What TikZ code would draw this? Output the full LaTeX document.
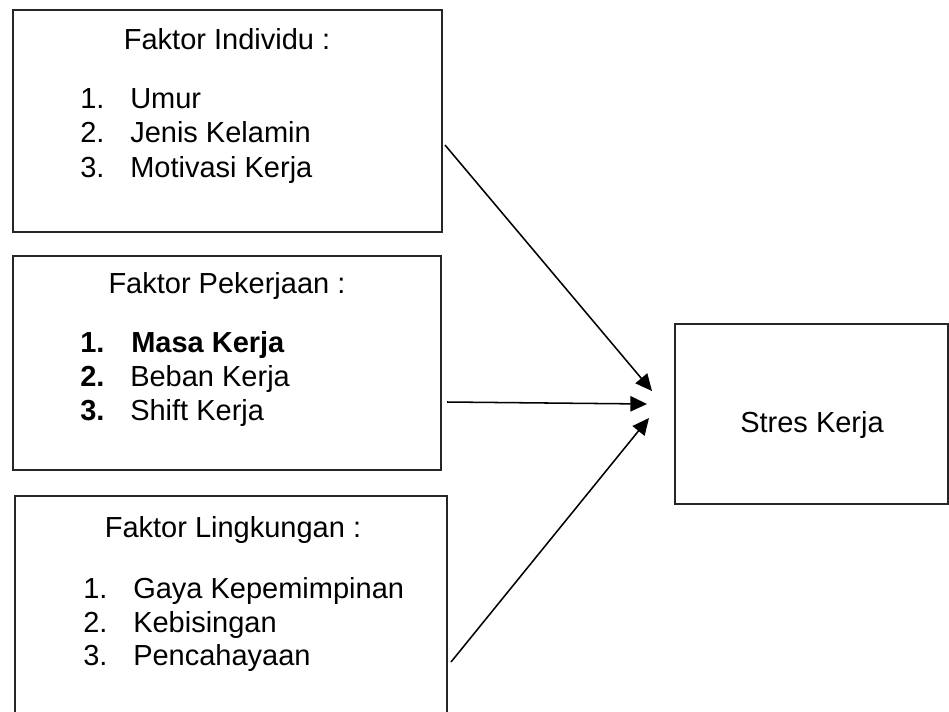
\documentclass[tikz,border=0pt]{standalone}
\usepackage{fontspec}
\setmainfont{Liberation Sans}
\usetikzlibrary{arrows.meta}
\begin{document}
\begin{tikzpicture}[x=0.75pt,y=-0.75pt,
  box/.style={draw=black!85,line width=1pt,rectangle,inner sep=0pt},
  txt/.style={inner sep=0pt,font=\fontsize{21.75}{26}\selectfont},
  conn/.style={line width=1.15pt,-{Triangle[length=12.5pt,width=11.5pt]}}]
\useasboundingbox (0,0) rectangle (949,711);
% boxes
\node[box,minimum width=429*0.75pt,minimum height=222*0.75pt] (b1) at (227.5,121) {};
\node[box,minimum width=428*0.75pt,minimum height=214*0.75pt] (b2) at (227,363) {};
\node[box,minimum width=432*0.75pt,minimum height=224*0.75pt] (b3) at (231,608) {};
\node[box,minimum width=273*0.75pt,minimum height=180*0.75pt] (b4) at (811.5,414) {};
% box 1 texts
\node[txt,anchor=base] (t1) at (227,49) {Faktor Individu :};
\node[txt,anchor=base west] (n11) at (80,108) {1.};
\node[txt,anchor=base west] (i11) at (130,108) {Umur};
\node[txt,anchor=base west] (n12) at (80,142) {2.};
\node[txt,anchor=base west] (i12) at (130,142) {Jenis Kelamin};
\node[txt,anchor=base west] (n13) at (80,177) {3.};
\node[txt,anchor=base west] (i13) at (130,177) {Motivasi Kerja};
% box 2 texts
\node[txt,anchor=base] (t2) at (227,293) {Faktor Pekerjaan :};
\node[txt,anchor=base west,font=\fontsize{21.75}{26}\selectfont\bfseries] (n21) at (80,352) {1.};
\node[txt,anchor=base west,font=\fontsize{21.75}{26}\selectfont\bfseries] (i21) at (131,352) {Masa Kerja};
\node[txt,anchor=base west,font=\fontsize{21.75}{26}\selectfont\bfseries] (n22) at (80,386) {2.};
\node[txt,anchor=base west] (i22) at (130,386) {Beban Kerja};
\node[txt,anchor=base west,font=\fontsize{21.75}{26}\selectfont\bfseries] (n23) at (80,420) {3.};
\node[txt,anchor=base west] (i23) at (130,420) {Shift Kerja};
% box 3 texts
\node[txt,anchor=base] (t3) at (233,537) {Faktor Lingkungan :};
\node[txt,anchor=base west] (n31) at (83,598) {1.};
\node[txt,anchor=base west] (i31) at (133,598) {Gaya Kepemimpinan};
\node[txt,anchor=base west] (n32) at (83,632) {2.};
\node[txt,anchor=base west] (i32) at (133,632) {Kebisingan};
\node[txt,anchor=base west] (n33) at (83,665) {3.};
\node[txt,anchor=base west] (i33) at (133,665) {Pencahayaan};
% box 4 text
\node[txt,anchor=base] (t4) at (812,432) {Stres Kerja};
% connector ends
\coordinate (s1) at (445,145);
\coordinate (e1) at (652,391);
\coordinate (s2) at (447,402);
\coordinate (e2) at (647,404);
\coordinate (s3) at (451,662);
\coordinate (e3) at (649,418);
\draw[conn] (s1) -- (e1);
\draw[conn] (s2) -- (e2);
\draw[conn] (s3) -- (e3);
\end{tikzpicture}
\end{document}
